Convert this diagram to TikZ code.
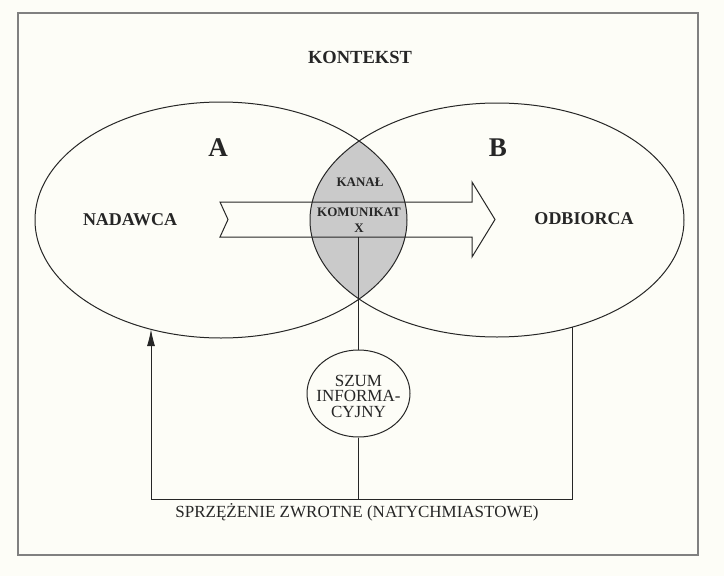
\documentclass[tikz,border=0pt]{standalone}
\usepackage{fontspec}
\setmainfont{Liberation Serif}
\usetikzlibrary{arrows.meta,shapes.geometric}
\definecolor{kmpaper}{HTML}{FDFDF7}
\definecolor{kmframe}{HTML}{808080}
\definecolor{kmink}{HTML}{262626}
\definecolor{kmlens}{HTML}{CACACA}

\begin{document}
\begin{tikzpicture}[x=1pt,y=-1pt,
 partyshape/.style={draw=kmink,line width=1pt,ellipse,inner sep=0pt,outer sep=0pt},
 noiseshape/.style={draw=kmink,line width=1pt,ellipse,inner sep=0pt,minimum width=103pt,minimum height=87pt},
 noiselabel/.style={font=\fontsize{17}{15.5}\selectfont,text=kmink,inner sep=0pt,align=center},
 titlelabel/.style={font=\fontsize{18.5}{20}\selectfont\bfseries,text=kmink,inner sep=0pt},
 letterlabel/.style={font=\fontsize{27}{30}\selectfont\bfseries,text=kmink,inner sep=0pt},
 partylabel/.style={font=\fontsize{18}{20}\selectfont\bfseries,text=kmink,inner sep=0pt},
 lenslabel/.style={font=\fontsize{13}{16}\selectfont\bfseries,text=kmink,inner sep=0pt,align=center},
 plainlabel/.style={font=\fontsize{17}{20}\selectfont,text=kmink,inner sep=0pt},
 msgarrow/.style={draw=kmink,line width=1pt,line join=miter},
 linkline/.style={draw=kmink,line width=1pt},
 fbarrow/.style={-{Latex[length=17pt,width=8pt]},draw=kmink,line width=1pt}
]
\useasboundingbox[fill=kmpaper] (0,0) rectangle (724,576);
\draw[kmframe,line width=1.2pt] (18,13) rectangle (698,555);

% shaded channel where the two fields overlap
\begin{scope}
  \clip (221,220) ellipse [x radius=186, y radius=118];
  \fill[kmlens] (497,220) ellipse [x radius=187, y radius=117];
\end{scope}
\node[partyshape,minimum width=372pt,minimum height=236pt] (nadawcaEl) at (221,220) {};
\node[partyshape,minimum width=374pt,minimum height=234pt] (odbiorcaEl) at (497,220) {};

% message arrow
\coordinate (komBot) at (358,237);
\draw[msgarrow] (220,202) -- (472,202) -- (472,182) -- (495,219.5) -- (472,257)
  -- (472,237) -- (220,237) -- (228,219.5) -- cycle;

\node[titlelabel] (kontekst) at (360,57) {KONTEKST};
\node[letterlabel] (letA) at (218,148) {A};
\node[letterlabel] (letB) at (498,148) {B};
\node[partylabel] (nadawca) at (130,220) {NADAWCA};
\node[partylabel] (odbiorca) at (584,219) {ODBIORCA};
\node[lenslabel] (kanal) at (360,182) {KANAŁ};
\node[lenslabel] (komunikat) at (359,220) {KOMUNIKAT\\X};
\node[noiseshape] (szum) at (358.5,393.5) {};
\node[noiselabel] (szumtext) at (358.5,396) {SZUM\\INFORMA-\\CYJNY};

% feedback loop
\coordinate (fbL) at (151,499);
\coordinate (fbM) at (358,499);
\coordinate (fbR) at (572,499);
\draw[linkline] (komBot) -- (komBot |- szum.north);
\draw[linkline] (komBot |- szum.south) -- (fbM);
\draw[fbarrow] (fbR |- odbiorcaEl.305) -- (fbR) -- (fbL) -- (fbL |- nadawcaEl.237);
\node[plainlabel] (sprzezenie) at (357,512) {SPRZĘŻENIE ZWROTNE (NATYCHMIASTOWE)};
\end{tikzpicture}
\end{document}
